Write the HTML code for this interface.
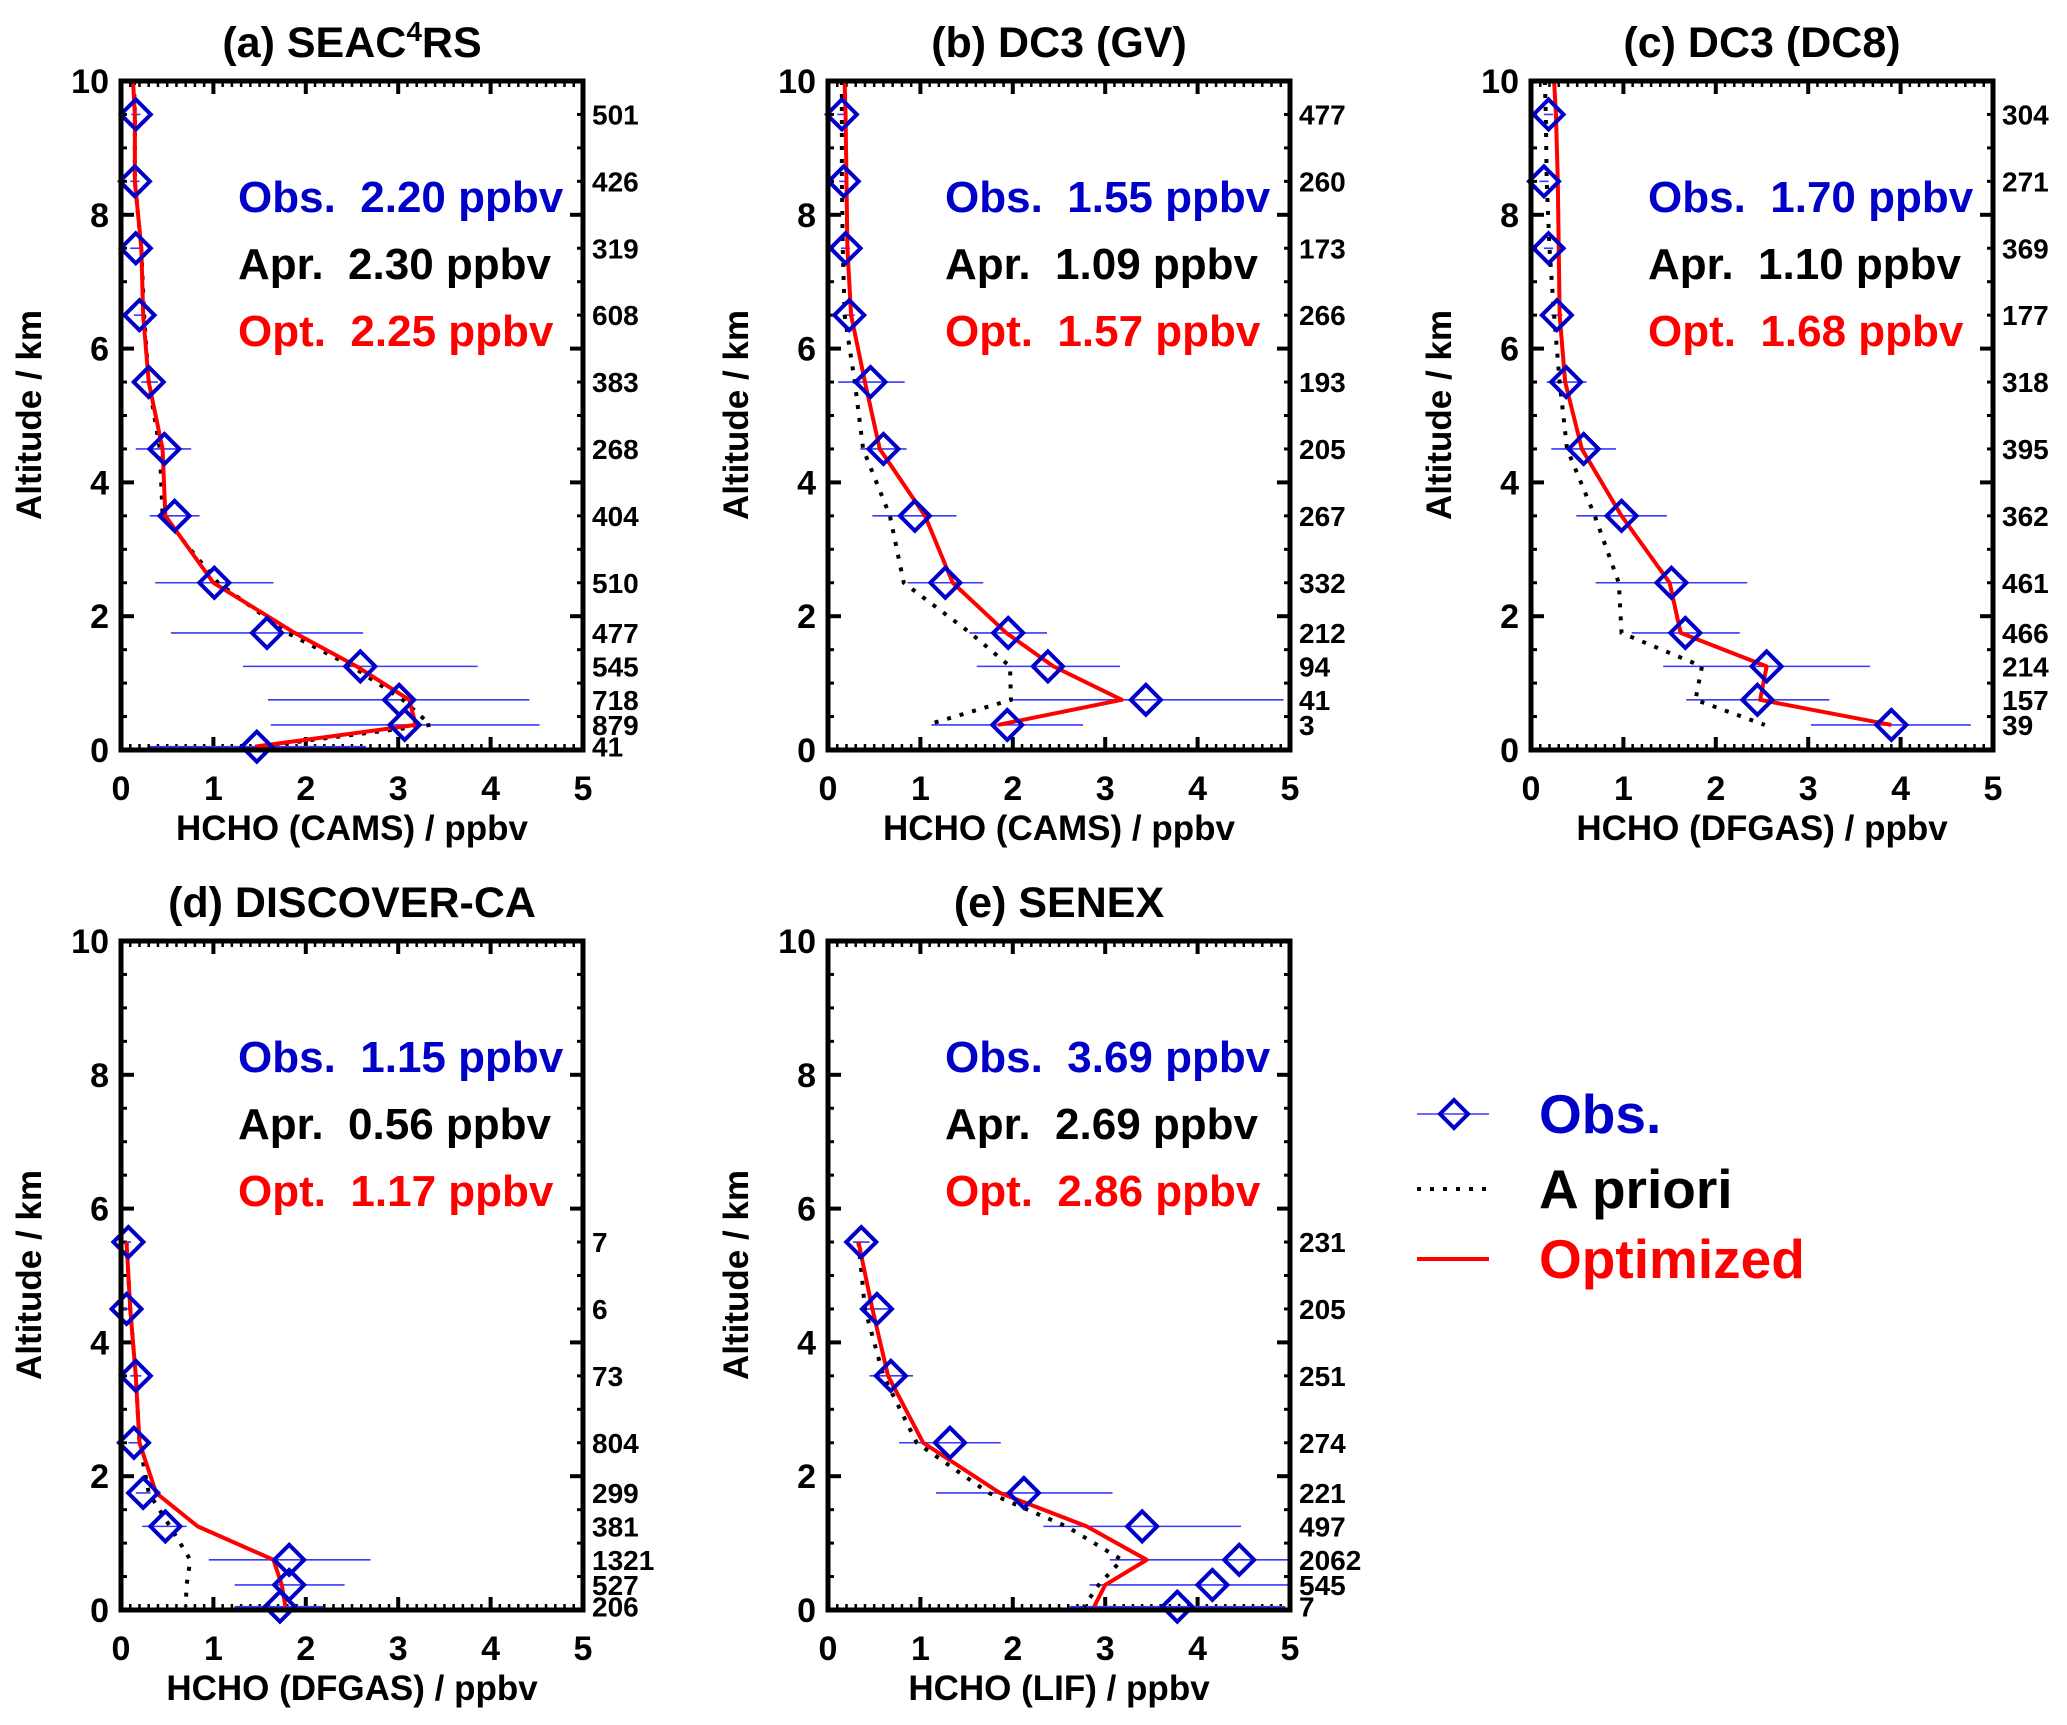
<!DOCTYPE html>
<html><head><meta charset="utf-8"><style>
html,body{margin:0;padding:0;background:#fff}
svg{display:block}
text{font-family:"Liberation Sans",Arial,sans-serif;font-weight:bold}
</style></head><body>
<svg id="fig" xmlns="http://www.w3.org/2000/svg" width="2067" height="1725" viewBox="0 0 2067 1725">
<rect width="2067" height="1725" fill="#fff"/>
<g id="legend">
  <g>
    <line x1="1417" y1="1114" x2="1489" y2="1114" stroke="#3a3aff" stroke-width="1.6"/>
    <polygon points="1454,1100 1468,1114 1454,1128 1440,1114" fill="none" stroke="#0000c8" stroke-width="4"/>
    <text x="1539" y="1133" font-size="55" fill="#0000c8">Obs.</text>
  </g>
  <g>
    <line x1="1417" y1="1189" x2="1489" y2="1189" stroke="#000" stroke-width="4" stroke-dasharray="4 9"/>
    <text x="1539" y="1208" font-size="55" fill="#000">A priori</text>
  </g>
  <g>
    <line x1="1417" y1="1259" x2="1489" y2="1259" stroke="#ff0000" stroke-width="4"/>
    <text x="1539" y="1278" font-size="55" fill="#ff0000">Optimized</text>
  </g>
</g>
</svg>
<script>
// ---- data ----
const altRow1 = [9.5,8.5,7.5,6.5,5.5,4.5,3.5,2.5,1.75,1.25,0.75,0.375,0.05];
const altB = [9.5,8.5,7.5,6.5,5.5,4.5,3.5,2.5,1.75,1.25,0.75,0.375];
const altRow2 = [5.5,4.5,3.5,2.5,1.75,1.25,0.75,0.375,0.05];

const obsA = [0.16,0.15,0.16,0.2,0.3,0.47,0.58,1.01,1.58,2.59,3.01,3.07,1.47];
const loA = [0.11,0.1,0.1,0.14,0.22,0.16,0.31,0.37,0.54,1.32,1.59,1.62,0.31];
const hiA = [0.21,0.2,0.22,0.26,0.4,0.76,0.85,1.65,2.62,3.86,4.42,4.53,2.65];
const aprA = [0.14,0.15,0.15,0.22,0.25,0.3,0.42,0.45,1.05,1.8,2.5,3.05,3.35,1.5];
const optA = [0.13,0.15,0.15,0.22,0.24,0.3,0.45,0.48,1.0,1.88,2.55,3.12,3.19,1.45];
const cntA = ["501","426","319","608","383","268","404","510","477","545","718","879","41"];

const obsB = [0.15,0.17,0.19,0.23,0.46,0.6,0.94,1.27,1.95,2.38,3.44,1.94];
const loB = [0.1,0.12,0.14,0.17,0.11,0.35,0.48,0.86,1.53,1.61,2.0,1.12];
const hiB = [0.2,0.22,0.24,0.29,0.83,0.85,1.39,1.68,2.37,3.16,4.93,2.76];
const aprB = [0.15,0.15,0.15,0.16,0.18,0.29,0.38,0.67,0.82,1.54,1.97,1.98,1.07];
const optB = [0.18,0.19,0.2,0.21,0.25,0.4,0.56,1.05,1.35,1.93,2.44,3.18,1.84];
const cntB = ["477","260","173","266","193","205","267","332","212","94","41","3"];

const obsC = [0.19,0.14,0.19,0.28,0.38,0.57,0.98,1.52,1.67,2.55,2.45,3.9];
const loC = [0.14,0.09,0.14,0.22,0.17,0.22,0.49,0.7,1.09,1.43,1.68,3.03];
const hiC = [0.24,0.19,0.24,0.34,0.6,0.92,1.47,2.34,2.26,3.67,3.23,4.76];
const aprC = [0.15,0.16,0.17,0.2,0.25,0.31,0.39,0.69,0.95,0.98,1.85,1.78,2.53];
const optC = [0.25,0.27,0.29,0.3,0.31,0.37,0.55,0.98,1.5,1.62,2.55,2.48,3.9];
const cntC = ["304","271","369","177","318","395","362","461","466","214","157","39"];

const obsD = [0.08,0.06,0.16,0.14,0.24,0.48,1.82,1.82,1.72];
const loD = [0.05,0.03,0.1,0.08,0.16,0.23,0.95,1.23,1.23];
const hiD = [0.11,0.09,0.22,0.2,0.32,0.71,2.7,2.42,2.19];
const aprD = [0.06,0.1,0.16,0.2,0.3,0.53,0.75,0.71,0.7];
const optD = [0.06,0.1,0.16,0.2,0.38,0.83,1.65,1.74,1.78];
const cntD = ["7","6","73","804","299","381","1321","527","206"];

const obsE = [0.36,0.53,0.68,1.32,2.12,3.4,4.45,4.16,3.78];
const loE = [0.27,0.36,0.45,0.77,1.17,2.33,3.05,2.83,2.62];
const hiE = [0.45,0.69,0.92,1.87,3.08,4.47,5.0,5.0,4.95];
const aprE = [0.33,0.4,0.6,0.96,1.74,2.58,3.18,2.93,2.77];
const optE = [0.33,0.48,0.65,1.03,1.86,2.8,3.45,3.0,2.88];
const cntE = ["231","205","251","274","221","497","2062","545","7"];

const xTicks = ["0","1","2","3","4","5"];
const yTicks = ["0","2","4","6","8","10"];

const NS = "http://www.w3.org/2000/svg";
const svg = document.getElementById('fig');
function mk(tag, attrs, parent){
  const e = document.createElementNS(NS, tag);
  for (const k in attrs) e.setAttribute(k, attrs[k]);
  (parent||svg).appendChild(e);
  return e;
}

const panels = [
  {id:'a', title:['(a) SEAC','4','RS'], x0:121, row:0, alt:altRow1, top:true, obs:obsA, lo:loA, hi:hiA, apr:aprA, opt:optA, cnt:cntA, xl:'HCHO (CAMS) / ppbv', st:['2.20','2.30','2.25']},
  {id:'b', title:['(b) DC3 (GV)'], x0:828, row:0, alt:altB, top:true, obs:obsB, lo:loB, hi:hiB, apr:aprB, opt:optB, cnt:cntB, xl:'HCHO (CAMS) / ppbv', st:['1.55','1.09','1.57']},
  {id:'c', title:['(c) DC3 (DC8)'], x0:1531, row:0, alt:altB, top:true, obs:obsC, lo:loC, hi:hiC, apr:aprC, opt:optC, cnt:cntC, xl:'HCHO (DFGAS) / ppbv', st:['1.70','1.10','1.68']},
  {id:'d', title:['(d) DISCOVER-CA'], x0:121, row:1, alt:altRow2, top:false, obs:obsD, lo:loD, hi:hiD, apr:aprD, opt:optD, cnt:cntD, xl:'HCHO (DFGAS) / ppbv', st:['1.15','0.56','1.17']},
  {id:'e', title:['(e) SENEX'], x0:828, row:1, alt:altRow2, top:false, obs:obsE, lo:loE, hi:hiE, apr:aprE, opt:optE, cnt:cntE, xl:'HCHO (LIF) / ppbv', st:['3.69','2.69','2.86']}
];

const W = 462;
panels.forEach(p => {
  const off = p.row * 860;
  const y10 = 81 + off, y0 = 750 + off;
  const X = v => p.x0 + v / 5 * W;
  const Y = a => y0 - a / 10 * (y0 - y10);
  const g = mk('g', {});
  
  

  const t = mk('text', {x: p.x0 + W/2, y: 57 + off, 'font-size': 43, 'text-anchor':'middle', fill:'#000'}, g);
  
  
  if (p.title.length === 3) {
    t.appendChild(document.createTextNode(p.title[0]));
    const s = document.createElementNS(NS,'tspan');
    s.setAttribute('font-size','28'); s.setAttribute('dy','-16');
    s.textContent = p.title[1]; t.appendChild(s);
    const s2 = document.createElementNS(NS,'tspan');
    s2.setAttribute('dy','16');
    s2.textContent = p.title[2]; t.appendChild(s2);
  } else t.textContent = p.title[0];

  const tk = mk('g', {stroke:'#000'}, g);
  
  
  for (let i = 0; i <= 50; i++) {
    const v = i / 10, major = (i % 10 === 0), L = major ? 13 : 6;
    mk('line', {x1:X(v), y1:y0, x2:X(v), y2:y0-L, 'stroke-width': major?4:2.5}, tk);
    mk('line', {x1:X(v), y1:y10, x2:X(v), y2:y10+L, 'stroke-width': major?4:2.5}, tk);
  }
  for (let i = 0; i <= 20; i++) {
    const a = i / 2, major = (i % 4 === 0), L = major ? 13 : 6;
    mk('line', {x1:p.x0, y1:Y(a), x2:p.x0+L, y2:Y(a), 'stroke-width': major?4:3}, tk);
    mk('line', {x1:p.x0+W, y1:Y(a), x2:p.x0+W-L, y2:Y(a), 'stroke-width': major?4:3}, tk);
  }

  xTicks.forEach((s, i) => {
    const e = mk('text', {x: X(i), y: 800 + off, 'font-size': 34, 'text-anchor':'middle', fill:'#000'}, g);
    
    
    e.textContent = s;
  });
  yTicks.forEach((s, i) => {
    const e = mk('text', {x: p.x0 - 12, y: Y(i*2) + 12, 'font-size': 34, 'text-anchor':'end', fill:'#000'}, g);
    
    
    e.textContent = s;
  });
  const xt = mk('text', {x: p.x0 + W/2, y: 840 + off, 'font-size': 35, 'text-anchor':'middle', fill:'#000'}, g);
  
  
  xt.textContent = p.xl;
  const yt = mk('text', {x: 0, y: 0, 'font-size': 35, 'text-anchor':'middle', fill:'#000',
    transform:`translate(${p.x0-80},${415+off}) rotate(-90)`}, g);
  
  
  yt.textContent = 'Altitude / km';

  const cols = ['#0000c8','#000','#ff0000'], labs = ['Obs.','Apr.','Opt.'];
  [0,1,2].forEach(i => {
    const e = mk('text', {x: p.x0 + 117, y: 212 + i*67 + off, 'font-size': 44, fill: cols[i]}, g);
    
    
    e.textContent = labs[i] + '\u00a0\u00a0' + p.st[i] + ' ppbv';
  });

  p.cnt.forEach((s, i) => {
    const e = mk('text', {x: p.x0 + W + 9, y: Y(p.alt[i]) + 10, 'font-size': 28, fill:'#000'}, g);
    
    
    e.textContent = s;
  });

  const cp = mk('clipPath', {id:'clip'+p.id}, g);
  mk('rect', {x:p.x0, y:y10, width:W, height:y0-y10}, cp);
  const plot = mk('g', {'clip-path':`url(#clip${p.id})`}, g);

  const lineAlt = p.top ? [10].concat(p.alt) : p.alt;
  p.alt.forEach((a, i) => {
    const e = mk('line', {x1:X(p.lo[i]), y1:Y(a), x2:X(p.hi[i]), y2:Y(a), stroke:'#3a3aff', 'stroke-width':1.6}, plot);
    
    
  });
  const ap = mk('polyline', {points: p.apr.map((v,i)=>X(v)+','+Y(lineAlt[i])).join(' '), fill:'none', stroke:'#000', 'stroke-width':4, 'stroke-dasharray':'4 9'}, plot);
  
  
  const op = mk('polyline', {points: p.opt.map((v,i)=>X(v)+','+Y(lineAlt[i])).join(' '), fill:'none', stroke:'#ff0000', 'stroke-width':4, 'stroke-linejoin':'round'}, plot);
  
  
  p.alt.forEach((a, i) => {
    const cx = X(p.obs[i]), cy = Y(a), r = 15;
    const e = mk('polygon', {points:`${cx},${cy-r} ${cx+r},${cy} ${cx},${cy+r} ${cx-r},${cy}`, fill:'none', stroke:'#0000c8', 'stroke-width':4}, g);
    
    
  });

  const fr = mk('rect', {x:p.x0, y:y10, width:W, height:y0-y10, fill:'none', stroke:'#000', 'stroke-width':5}, g);
  
  
});
</script>
</body></html>
